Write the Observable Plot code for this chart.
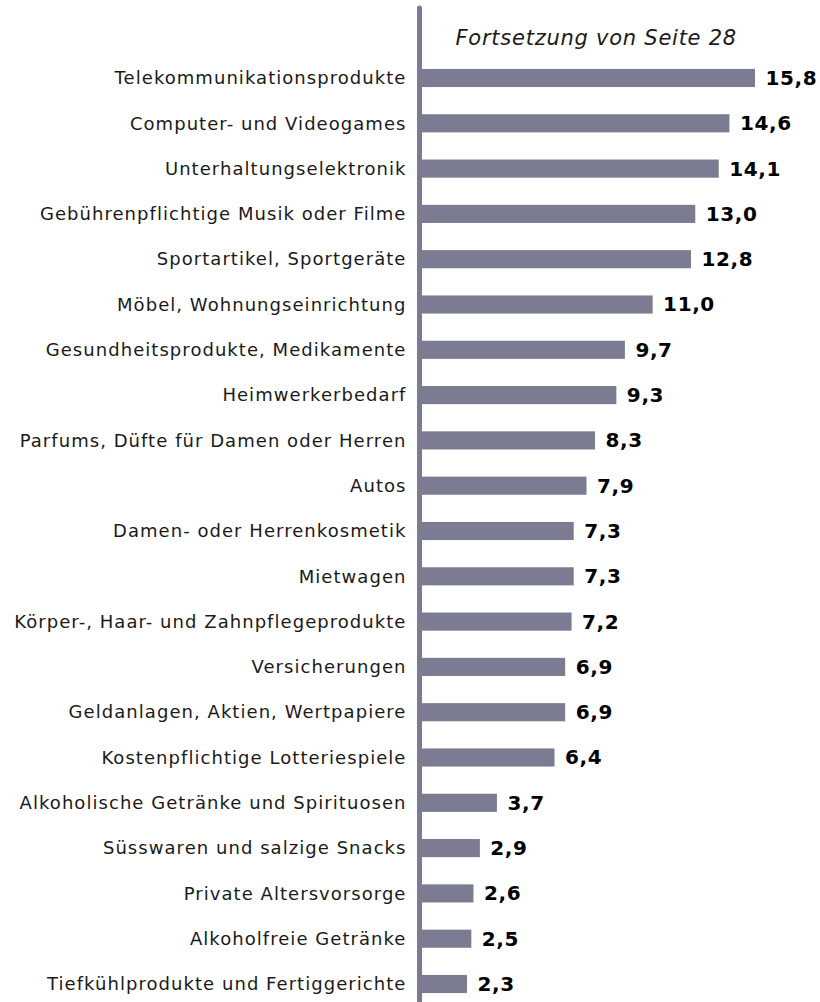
<!DOCTYPE html>
<html>
<head>
<meta charset="utf-8">
<script src="https://cdn.jsdelivr.net/npm/d3@7"></script>
<script src="https://cdn.jsdelivr.net/npm/@observablehq/plot@0.6"></script>
<style>
  html, body { margin: 0; padding: 0; background: #fff; }
  #chart svg { display: block; }
  #chart svg g[aria-label="y-axis tick label"] text { letter-spacing: 1.05px; }
</style>
</head>
<body>
<div id="chart"></div>
<script>
const categories = [
  "Telekommunikationsprodukte",
  "Computer- und Videogames",
  "Unterhaltungselektronik",
  "Gebührenpflichtige Musik oder Filme",
  "Sportartikel, Sportgeräte",
  "Möbel, Wohnungseinrichtung",
  "Gesundheitsprodukte, Medikamente",
  "Heimwerkerbedarf",
  "Parfums, Düfte für Damen oder Herren",
  "Autos",
  "Damen- oder Herrenkosmetik",
  "Mietwagen",
  "Körper-, Haar- und Zahnpflegeprodukte",
  "Versicherungen",
  "Geldanlagen, Aktien, Wertpapiere",
  "Kostenpflichtige Lotteriespiele",
  "Alkoholische Getränke und Spirituosen",
  "Süsswaren und salzige Snacks",
  "Private Altersvorsorge",
  "Alkoholfreie Getränke",
  "Tiefkühlprodukte und Fertiggerichte"
];
const values = [15.8, 14.6, 14.1, 13.0, 12.8, 11.0, 9.7, 9.3, 8.3, 7.9, 7.3, 7.3, 7.2, 6.9, 6.9, 6.4, 3.7, 2.9, 2.6, 2.5, 2.3];
const note = "Fortsetzung von Seite 28";

const data = categories.map((c, i) => ({category: c, value: values[i]}));
const fmt = v => v.toFixed(1).replace(".", ",");
const barColor = "#7b7b91";

const chart = Plot.plot({
  width: 820,
  height: 1002,
  marginTop: 8,
  marginBottom: 0,
  marginLeft: 418,
  marginRight: 0,
  style: {fontFamily: "'DejaVu Sans', Verdana, sans-serif", color: "#1a1a1a", background: "#fff"},
  x: {domain: [0, 15.8], range: [418, 755], axis: null},
  y: {domain: categories, range: [55.35, 1006.65], paddingInner: 0.6, paddingOuter: 0.3, round: false, label: null},
  marks: [
    Plot.barX(data, {x: "value", y: "category", fill: barColor}),
    Plot.ruleX([0], {stroke: barColor, strokeWidth: 5, dx: 1, strokeLinecap: "round"}),
    Plot.axisY({tickSize: 0, tickPadding: 12, fontSize: 18, label: null}),
    Plot.text(data, {x: "value", y: "category", text: d => fmt(d.value), dx: 10, textAnchor: "start", fontWeight: "bold", fontSize: 20, fill: "#000"}),
    Plot.text([note], {frameAnchor: "top-left", dx: 37, dy: 30, textAnchor: "start", lineAnchor: "middle", fontStyle: "italic", fontSize: 21, fill: "#1a1a1a"})
  ]
});
d3.select(chart).selectAll('g[aria-label="text"]').each(function(_, i) {
  d3.select(this).selectAll("text").style("letter-spacing", i === 0 ? "0.6px" : "0.75px");
});
document.getElementById("chart").appendChild(chart);
</script>
</body>
</html>
